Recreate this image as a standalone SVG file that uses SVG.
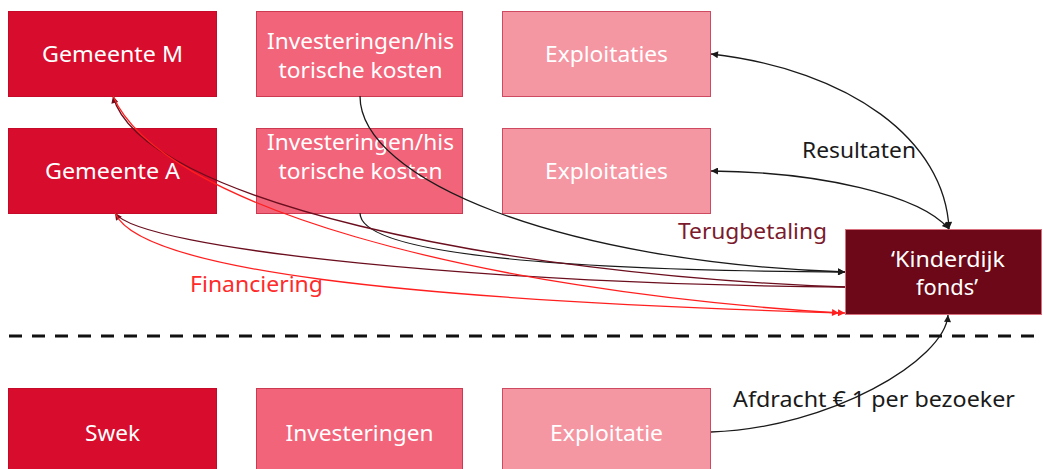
<svg xmlns="http://www.w3.org/2000/svg" width="1043" height="469" viewBox="0 0 1043 469">
<style>
text{font-family:"Noto Sans","Open Sans","Liberation Sans",sans-serif;font-size:22.5px}
.lbl{fill:#ffffff;text-anchor:middle}
.gem{fill:#D80C2C;stroke:#C40A28;stroke-width:1}
.inv{fill:#F2647A;stroke:#CC3A52;stroke-width:1}
.exp{fill:#F596A3;stroke:#CE4A60;stroke-width:1}
.kin{fill:#6C0817;stroke:#D8707E;stroke-width:1}
.c{fill:none;stroke-width:1.3}
.blk{stroke:#1a1a1a}
.mar{stroke:#6B0E1E}
.red{stroke:#FF1F1F}
</style>
<defs>
<marker id="ab" viewBox="0 0 10 10" refX="10" refY="5" markerWidth="9" markerHeight="7" markerUnits="userSpaceOnUse" orient="auto-start-reverse"><path d="M0,0 L10,5 L0,10 z" fill="#1a1a1a"/></marker>
<marker id="am" viewBox="0 0 10 10" refX="10" refY="5" markerWidth="9" markerHeight="7" markerUnits="userSpaceOnUse" orient="auto-start-reverse"><path d="M0,0 L10,5 L0,10 z" fill="#6B0E1E"/></marker>
<marker id="ar" viewBox="0 0 10 10" refX="10" refY="5" markerWidth="9" markerHeight="7" markerUnits="userSpaceOnUse" orient="auto-start-reverse"><path d="M0,0 L10,5 L0,10 z" fill="#FF1F1F"/></marker>
</defs>
<rect width="1043" height="469" fill="#ffffff"/>

<g id="gemeente-m"><rect class="gem" x="8.5" y="11.5" width="208" height="85"/><text class="lbl" x="112.5" y="62" textLength="141" lengthAdjust="spacingAndGlyphs">Gemeente M</text></g>
<g id="gemeente-a"><rect class="gem" x="8.5" y="128.5" width="208" height="85"/><text class="lbl" x="112.5" y="179" textLength="135" lengthAdjust="spacingAndGlyphs">Gemeente A</text></g>
<g id="investeringen-1"><rect class="inv" x="256.5" y="11.5" width="206" height="85"/><text class="lbl" x="360.5" y="49" textLength="187" lengthAdjust="spacingAndGlyphs">Investeringen/his</text><text class="lbl" x="360.5" y="78" textLength="164" lengthAdjust="spacingAndGlyphs">torische kosten</text></g>
<g id="investeringen-2"><rect class="inv" x="256.5" y="128.5" width="206" height="85"/><text class="lbl" x="360.5" y="150" textLength="187" lengthAdjust="spacingAndGlyphs">Investeringen/his</text><text class="lbl" x="360.5" y="179" textLength="164" lengthAdjust="spacingAndGlyphs">torische kosten</text></g>
<g id="exploitaties-1"><rect class="exp" x="502.5" y="11.5" width="208" height="85"/><text class="lbl" x="606.5" y="62" textLength="123" lengthAdjust="spacingAndGlyphs">Exploitaties</text></g>
<g id="exploitaties-2"><rect class="exp" x="502.5" y="128.5" width="208" height="85"/><text class="lbl" x="606.5" y="179" textLength="123" lengthAdjust="spacingAndGlyphs">Exploitaties</text></g>
<g id="kinderdijk-fonds"><rect class="kin" x="845.5" y="229.5" width="196" height="85"/><text class="lbl" x="948" y="267" textLength="114" lengthAdjust="spacingAndGlyphs">‘Kinderdijk</text><text class="lbl" x="947" y="295" textLength="62" lengthAdjust="spacingAndGlyphs">fonds’</text></g>
<g id="swek"><rect class="gem" x="8.5" y="388.5" width="208" height="90"/><text class="lbl" x="112.5" y="441" textLength="55" lengthAdjust="spacingAndGlyphs">Swek</text></g>
<g id="investeringen-3"><rect class="inv" x="256.5" y="388.5" width="206" height="90"/><text class="lbl" x="359.5" y="441" textLength="148" lengthAdjust="spacingAndGlyphs">Investeringen</text></g>
<g id="exploitatie-3"><rect class="exp" x="502.5" y="388.5" width="208" height="90"/><text class="lbl" x="606.5" y="441" textLength="113" lengthAdjust="spacingAndGlyphs">Exploitatie</text></g>

<line id="divider" x1="9" y1="336" x2="1036" y2="336" stroke="#111111" stroke-width="3.2" stroke-dasharray="13 10"/>

<g id="connectors">
<path class="c blk" d="M360,96 C360,180 560,262 845,272" marker-end="url(#ab)"/>
<path class="c blk" d="M360,213 C360,250 520,270 845,272" marker-end="url(#ab)"/>
<path class="c mar" d="M845,287 C500,275 140,200 113,96" marker-end="url(#am)"/>
<path class="c mar" d="M845,287 C500,285 140,250 115,213" marker-end="url(#am)"/>
<path class="c red" d="M113,96 C160,205 470,290 839,313" marker-end="url(#ar)"/>
<path class="c red" d="M115,213 C140,270 400,300 845,313" marker-end="url(#ar)"/>
<path class="c blk" d="M711,54 C850,70 945,140 949,229" marker-start="url(#ab)" marker-end="url(#ab)"/>
<path class="c blk" d="M711,171 C820,172 920,195 949,229" marker-start="url(#ab)" marker-end="url(#ab)"/>
<path class="c blk" d="M711,432 C830,428 945,360 948,315" marker-end="url(#ab)"/>
</g>

<g id="labels">
<text x="802" y="158" fill="#1a1a1a" textLength="114" lengthAdjust="spacingAndGlyphs">Resultaten</text>
<text x="678" y="239" fill="#7B1A2C" textLength="149" lengthAdjust="spacingAndGlyphs">Terugbetaling</text>
<text x="190" y="292" fill="#FF2A2A" textLength="133" lengthAdjust="spacingAndGlyphs">Financiering</text>
<text x="733" y="407" fill="#1a1a1a" textLength="282" lengthAdjust="spacingAndGlyphs">Afdracht € 1 per bezoeker</text>
</g>
</svg>
